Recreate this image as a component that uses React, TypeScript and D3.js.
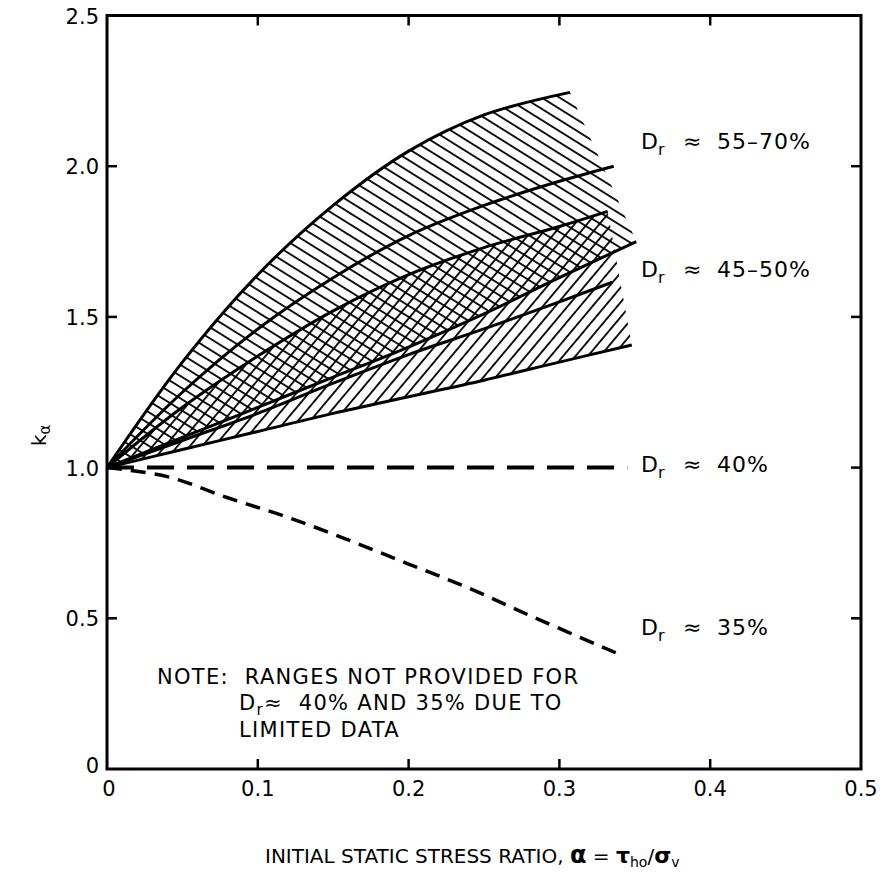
import React from "react";
import * as d3 from "d3";

// ---- data ----
const xTicks = [0, 0.1, 0.2, 0.3, 0.4, 0.5];
const xTickLabels = ["0", "0.1", "0.2", "0.3", "0.4", "0.5"];
const yTicks = [0, 0.5, 1.0, 1.5, 2.0, 2.5];
const yTickLabels = ["0", "0.5", "1.0", "1.5", "2.0", "2.5"];

// Dr 55-70% band
const band5570Upper: [number, number][] = [[0, 1], [0.05, 1.35], [0.1, 1.64], [0.15, 1.87], [0.2, 2.05], [0.25, 2.17], [0.307, 2.245]];
const band5570Mid: [number, number][] = [[0, 1], [0.05, 1.25], [0.1, 1.46], [0.15, 1.63], [0.2, 1.77], [0.25, 1.87], [0.3, 1.95], [0.336, 2.0]];
const band5570Lower: [number, number][] = [[0, 1], [0.05, 1.1], [0.1, 1.2], [0.15, 1.3], [0.2, 1.4], [0.25, 1.51], [0.3, 1.63], [0.351, 1.75]];
// Dr 45-50% band
const band4550Upper: [number, number][] = [[0, 1], [0.05, 1.2], [0.1, 1.37], [0.15, 1.52], [0.2, 1.64], [0.25, 1.73], [0.3, 1.8], [0.332, 1.85]];
const band4550Mid: [number, number][] = [[0, 1], [0.05, 1.09], [0.1, 1.18], [0.15, 1.28], [0.2, 1.375], [0.25, 1.46], [0.3, 1.55], [0.335, 1.615]];
const band4550Lower: [number, number][] = [[0, 1], [0.05, 1.06], [0.1, 1.12], [0.15, 1.18], [0.2, 1.235], [0.25, 1.29], [0.3, 1.35], [0.348, 1.407]];
// Dr 40% and 35%
const dr40: [number, number][] = [[0, 1], [0.345, 1]];
const dr35: [number, number][] = [[0, 1], [0.04, 0.97], [0.08, 0.9], [0.12, 0.835], [0.16, 0.76], [0.2, 0.68], [0.24, 0.6], [0.28, 0.51], [0.34, 0.38]];

const FONT = "'DejaVu Sans', sans-serif";

export default function App() {
  const W = 883, H = 872;
  const x = d3.scaleLinear().domain([0, 0.5]).range([107, 861]);
  const y = d3.scaleLinear().domain([0, 2.5]).range([769, 15.5]);
  const line = d3.line<[number, number]>().x(d => x(d[0])).y(d => y(d[1])).curve(d3.curveCatmullRom.alpha(0.5));
  const bandPath = (top: [number, number][], bot: [number, number][]) =>
    (line(top) as string) + (line(bot.slice().reverse()) as string).replace(/^M/, "L") + "Z";

  const x0 = x(0), x1 = x(0.5), y0 = y(0), y1 = y(2.5);
  const tickLen = 10;
  const fs = 21;

  const DrLabel = ({ lx, ly, text }: { lx: number; ly: number; text: string }) => (
    <g>
      <text x={lx} y={ly} fontFamily={FONT} fontSize={22}>D<tspan fontSize={16} dy={6}>r</tspan></text>
      <text x={lx + 42} y={ly} fontFamily={FONT} fontSize={22}>≈</text>
      <text x={lx + 76} y={ly} fontFamily={FONT} fontSize={22} letterSpacing={1}>{text}</text>
    </g>
  );

  return (
    <svg width={W} height={H} style={{ position: "absolute", left: 0, top: 0, background: "#fff" }}>
      <defs>
        <pattern id="hatchBack" patternUnits="userSpaceOnUse" width="9.5" height="9.5" patternTransform="rotate(32)">
          <line x1="0" y1="4.75" x2="9.5" y2="4.75" stroke="#000" strokeWidth="1.8" />
        </pattern>
        <pattern id="hatchFwd" patternUnits="userSpaceOnUse" width="9.5" height="9.5" patternTransform="rotate(-50)">
          <line x1="0" y1="4.75" x2="9.5" y2="4.75" stroke="#000" strokeWidth="1.8" />
        </pattern>
      </defs>

      {/* bands */}
      <path d={bandPath(band5570Upper, band5570Lower)} fill="url(#hatchBack)" stroke="none" />
      <path d={bandPath(band4550Upper, band4550Lower)} fill="url(#hatchFwd)" stroke="none" />

      {/* boundary lines */}
      {[band5570Upper, band5570Mid, band5570Lower, band4550Upper, band4550Mid, band4550Lower].map((d, i) => (
        <path key={i} d={line(d) as string} fill="none" stroke="#000" strokeWidth={3} />
      ))}
      <path d={line(dr40) as string} fill="none" stroke="#000" strokeWidth={4} strokeDasharray="27 13" />
      <path d={line(dr35) as string} fill="none" stroke="#000" strokeWidth={3.5} strokeDasharray="15 9" />

      {/* frame */}
      <rect x={x0} y={y1} width={x1 - x0} height={y0 - y1} fill="none" stroke="#000" strokeWidth={3} />
      {xTicks.map((t, i) => (
        <g key={"xt" + i}>
          {i > 0 && i < xTicks.length - 1 && (
            <>
              <line x1={x(t)} x2={x(t)} y1={y0} y2={y0 - tickLen} stroke="#000" strokeWidth={2.5} />
              <line x1={x(t)} x2={x(t)} y1={y1} y2={y1 + tickLen} stroke="#000" strokeWidth={2.5} />
            </>
          )}
          <text x={x(t) + (i === 0 ? 2 : 0)} y={796} textAnchor="middle" fontFamily={FONT} fontSize={fs}>{xTickLabels[i]}</text>
        </g>
      ))}
      {yTicks.map((t, i) => (
        <g key={"yt" + i}>
          {i > 0 && i < yTicks.length - 1 && (
            <>
              <line x1={x0} x2={x0 + tickLen} y1={y(t)} y2={y(t)} stroke="#000" strokeWidth={2.5} />
              <line x1={x1} x2={x1 - tickLen} y1={y(t)} y2={y(t)} stroke="#000" strokeWidth={2.5} />
            </>
          )}
          <text x={99} y={y(t) + 8 - (i === 0 ? 4 : 0)} textAnchor="end" fontFamily={FONT} fontSize={fs}>{yTickLabels[i]}</text>
        </g>
      ))}

      {/* curve labels */}
      <DrLabel lx={641} ly={149} text="55–70%" />
      <DrLabel lx={641} ly={277} text="45–50%" />
      <DrLabel lx={641} ly={472} text="40%" />
      <DrLabel lx={641} ly={635} text="35%" />

      {/* note */}
      <text x={157} y={684} fontFamily={FONT} fontSize={fs} letterSpacing={1.3} style={{ whiteSpace: "pre" }}>NOTE:  RANGES NOT PROVIDED FOR</text>
      <text x={239} y={710} fontFamily={FONT} fontSize={fs} letterSpacing={1.3} style={{ whiteSpace: "pre" }}>D<tspan fontSize={15} dy={5}>r</tspan><tspan dy={-5}>≈  40% AND 35% DUE TO</tspan></text>
      <text x={239} y={737} fontFamily={FONT} fontSize={fs} letterSpacing={1.3}>LIMITED DATA</text>

      {/* axis titles */}
      <text x={265} y={863} fontFamily={FONT} fontSize={20}>
        INITIAL STATIC STRESS RATIO,{" "}
        <tspan fontWeight="bold" fontSize={24}>α</tspan>
        <tspan> = </tspan>
        <tspan fontWeight="bold" fontSize={22}>τ</tspan>
        <tspan fontSize={14} dy={4}>ho</tspan>
        <tspan dy={-4}>/</tspan>
        <tspan fontWeight="bold" fontSize={22}>σ</tspan>
        <tspan fontSize={14} dy={4}>v</tspan>
      </text>
      <text transform="translate(46,446) rotate(-90)" fontFamily={FONT} fontSize={20}>
        k<tspan fontSize={15} dy={4}>α</tspan>
      </text>
    </svg>
  );
}
